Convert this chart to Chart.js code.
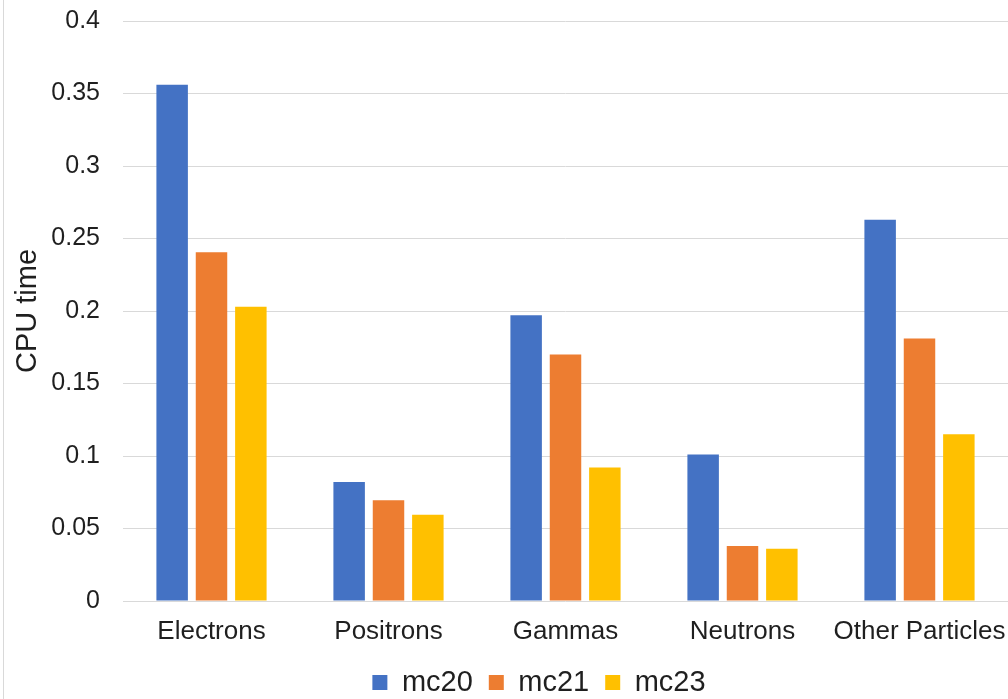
<!DOCTYPE html>
<html>
<head>
<meta charset="utf-8">
<script src="https://cdn.jsdelivr.net/npm/chart.js@4.4.1/dist/chart.umd.min.js"></script>
<style>
  html, body { margin: 0; padding: 0; background: #ffffff; }
  #wrap { position: relative; width: 1008px; height: 699px; overflow: hidden; background: #ffffff; }
  #frame { position: absolute; left: 3px; top: 0; width: 0; height: 699px; border-left: 1px solid #d9d9d9; }
  canvas { position: absolute; left: 0; top: 0; }
</style>
</head>
<body>
<div id="wrap">
  <canvas id="c" width="1072" height="705"></canvas>
  <div id="frame"></div>
</div>
<script>
const categories = ['Electrons', 'Positrons', 'Gammas', 'Neutrons', 'Other Particles'];
const seriesNames = ['mc20', 'mc21', 'mc23'];
const mc20 = [0.356, 0.082, 0.197, 0.101, 0.263];
const mc21 = [0.2405, 0.0695, 0.170, 0.038, 0.181];
const mc23 = [0.203, 0.0595, 0.092, 0.036, 0.115];
const yTickLabels = ['0', '0.05', '0.1', '0.15', '0.2', '0.25', '0.3', '0.35', '0.4'];
const yTitle = 'CPU time';

const colors = ['#4472C4', '#ED7D31', '#FFC000'];
const textColor = '#1f1f1f';
const gridColor = '#d9d9d9';
const FONT = '"Liberation Sans", Arial, sans-serif';
const LEGEND_HEIGHT = 53;
const LEGEND_SHIFT = 35;

const legendSizePlugin = {
  id: 'legendSize',
  beforeLayout(chart) {
    const lg = chart.legend;
    if (lg && !lg._wrapped) {
      const orig = lg.fit;
      lg.fit = function () { orig.call(this); this.height = LEGEND_HEIGHT; };
      lg._wrapped = true;
    }
  },
  afterLayout(chart) {
    const lg = chart.legend;
    if (lg) { lg.left += LEGEND_SHIFT; lg.right += LEGEND_SHIFT; }
  }
};

const series = [mc20, mc21, mc23];
new Chart(document.getElementById('c'), {
  type: 'bar',
  plugins: [legendSizePlugin],
  data: {
    labels: categories,
    datasets: series.map((d, i) => ({
      label: seriesNames[i],
      data: d,
      backgroundColor: colors[i],
      borderWidth: 0,
      categoryPercentage: 0.667,
      barPercentage: 0.8
    }))
  },
  options: {
    responsive: false,
    animation: false,
    devicePixelRatio: 1,
    layout: { padding: { left: 0, right: 64, top: 21, bottom: 0 } },
    plugins: {
      tooltip: { enabled: false },
      legend: {
        position: 'bottom',
        labels: {
          color: textColor,
          font: { family: FONT, size: 29 },
          boxWidth: 15,
          boxHeight: 15,
          padding: 16
        }
      }
    },
    scales: {
      x: {
        afterFit(scale) { scale.height = 51; },
        grid: { display: false, drawTicks: false },
        border: { display: false },
        ticks: {
          color: textColor,
          font: { family: FONT, size: 26 },
          padding: 15,
          maxRotation: 0,
          autoSkip: false
        }
      },
      y: {
        min: 0,
        max: 0.4,
        afterFit(scale) { scale.width = 123; },
        grid: { color: gridColor, lineWidth: 1, drawTicks: true, tickLength: 23, tickColor: 'rgba(0,0,0,0)' },
        border: { display: false },
        ticks: {
          stepSize: 0.05,
          color: textColor,
          font: { family: FONT, size: 25 },
          padding: 0,
          callback: (v, i) => yTickLabels[i]
        },
        title: {
          display: true,
          text: yTitle,
          color: textColor,
          font: { family: FONT, size: 29 },
          padding: { top: 11, bottom: 0 }
        }
      }
    }
  }
});
</script>
</body>
</html>
